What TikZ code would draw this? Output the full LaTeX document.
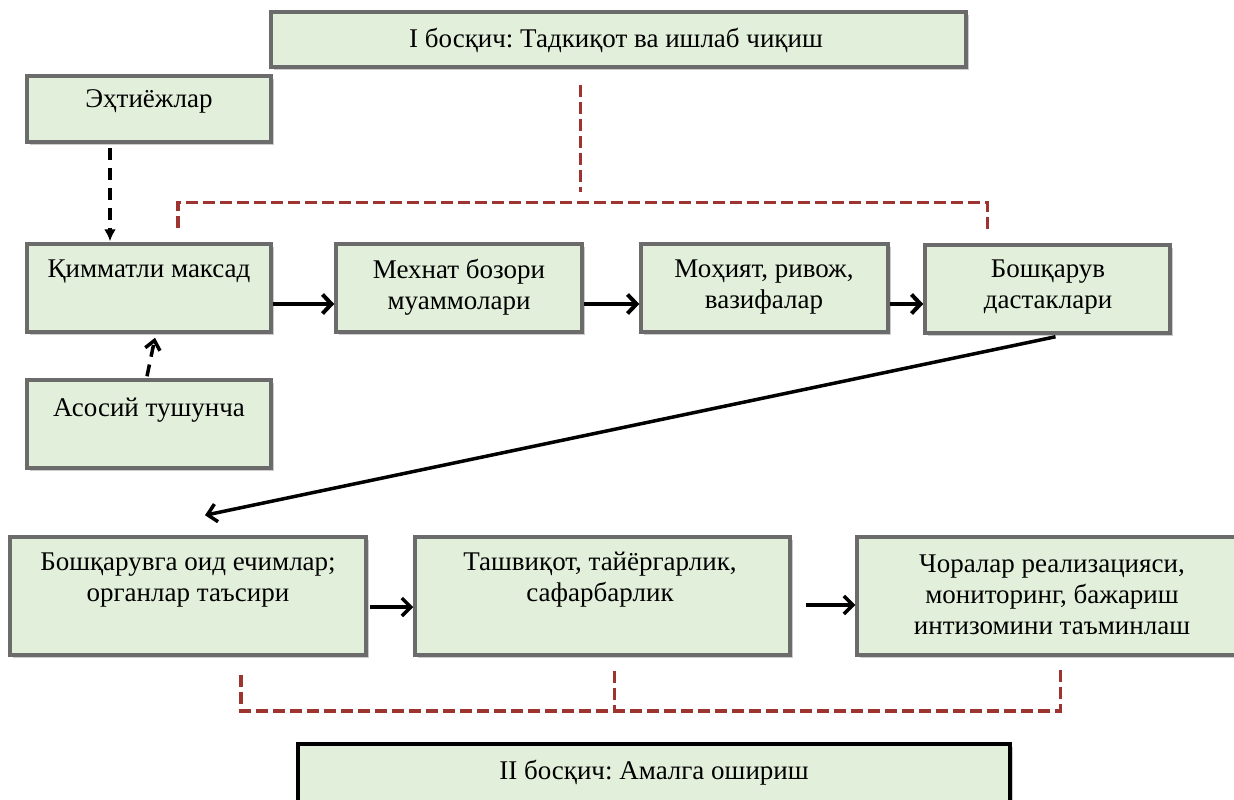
\documentclass[tikz,border=0pt]{standalone}
\usepackage{fontspec}
\setmainfont{Liberation Serif}
\usetikzlibrary{arrows.meta,calc,shadows}
\definecolor{boxfill}{HTML}{E2EFDA}
\definecolor{boxline}{HTML}{6B6B6B}
\definecolor{dred}{HTML}{9E3430}
\begin{document}
\frenchspacing
\begin{tikzpicture}[x=1pt,y=-1pt,
  box/.style={draw=boxline, line width=3.5pt, fill=boxfill, inner sep=0pt,
    drop shadow={shadow xshift=3pt, shadow yshift=-3pt, fill=black!20, opacity=1}},
  txt/.style={font=\fontsize{27}{31}\selectfont, align=center, inner sep=0pt, text=black},
  flow/.style={line width=4pt, -{Straight Barb[length=9pt,width=19pt]}},
  flowthin/.style={line width=3.5pt, -{Straight Barb[length=9pt,width=18pt]}},
  bdash/.style={line width=3.5pt, dash pattern=on 12pt off 8pt},
  reddash/.style={draw=dred, line width=3.5pt, dash pattern=on 12pt off 5pt}]
\clip (0,0) rectangle (1234,800);
\fill[white] (0,0) rectangle (1234,800);
\newcommand{\mkbox}[6][box]{\node[#1, minimum width={(#5)-(#3)}, minimum height={(#6)-(#4)}] (#2) at ({((#3)+(#5))/2},{((#4)+(#6))/2}) {};}
% boxes
\mkbox{title}{271}{12}{966}{67}
\mkbox{ehtiyoj}{27}{76}{271}{142}
\mkbox{qimmat}{27}{244}{271}{332}
\mkbox{mehnat}{336}{244}{582}{332}
\mkbox{mohiyat}{641}{244}{888}{332}
\mkbox{boshq}{925}{245}{1170}{333}
\mkbox{asosiy}{27}{380}{271}{468}
\mkbox{qaror}{10}{537}{366}{655}
\mkbox{tashviq}{415}{537}{790}{655}
\mkbox{choralar}{857}{537}{1240}{655}
\mkbox[box, draw=black, line width=4.5pt]{stage}{298}{744}{1010}{810}
% texts
\node[txt] (title-t) at (616,40) {I босқич: Тадкиқот ва ишлаб чиқиш};
\node[txt] (ehtiyoj-t) at (149,101) {Эҳтиёжлар};
\node[txt] (qimmat-t) at (149,272) {Қимматли максад};
\node[txt] (mehnat-t) at (459,287) {Мехнат бозори\\муаммолари};
\node[txt] (mohiyat-t) at (764,287) {Моҳият, ривож,\\вазифалар};
\node[txt] (boshq-t) at (1048,287) {Бошқарув\\дастаклари};
\node[txt] (asosiy-t) at (149,410) {Асосий тушунча};
\node[txt] (qaror-t) at (188,580) {Бошқарувга оид ечимлар;\\органлар таъсири};
\node[txt] (tashviq-t) at (600,580) {Ташвиқот, тайёргарлик,\\сафарбарлик};
\node[txt] (choralar-t) at (1052,595) {Чоралар реализацияси,\\мониторинг, бажариш\\интизомини таъминлаш};
\node[txt] (stage-t) at (654,773) {II босқич: Амалга ошириш};
% red dashed brackets
\draw[reddash] ($(title.south)+(-38,16)$) -- ($(title.south)+(-38,123)$);
\draw[reddash] ($(qimmat.north)+(29,-14)$) |- ($(boshq.north)+(-60,-41)$) -- ($(boshq.north)+(-60,-14)$);
\draw[reddash] ($(qaror.south)+(53,18)$) |- ($(choralar.south)+(12,54)$) -- ($(choralar.south)+(12,12)$);
\draw[reddash] ($(tashviq.south)+(12,14)$) -- ($(tashviq.south)+(12,54)$);
% dashed black arrows
\draw[bdash, -{Latex[length=12pt,width=12pt]}] ($(ehtiyoj.south)+(-39,4)$) -- ($(qimmat.north)+(-39,-1)$);
\draw[bdash, -{Straight Barb[length=9pt,width=15pt]}] ($(asosiy.north)+(-2,-2)$) -- ($(qimmat.south)+(6,4)$);
% flow arrows
\draw[flow] ($(qimmat.east)+(0,16)$) -- ($(mehnat.west)+(0,16)$);
\draw[flow] ($(mehnat.east)+(0,16)$) -- ($(mohiyat.west)+(0,16)$);
\draw[flow] ($(mohiyat.east)+(0,16)$) -- ($(boshq.west)+(0,15)$);
\draw[flowthin] ($(boshq.south)+(8,2)$) -- ($(qaror.north)+(17,-20)$);
\draw[flowthin] ($(qaror.east)+(2,11)$) -- ($(tashviq.west)+(0,11)$);
\draw[flowthin] ($(tashviq.east)+(14,9)$) -- ($(choralar.west)+(0,9)$);
\end{tikzpicture}
\end{document}
